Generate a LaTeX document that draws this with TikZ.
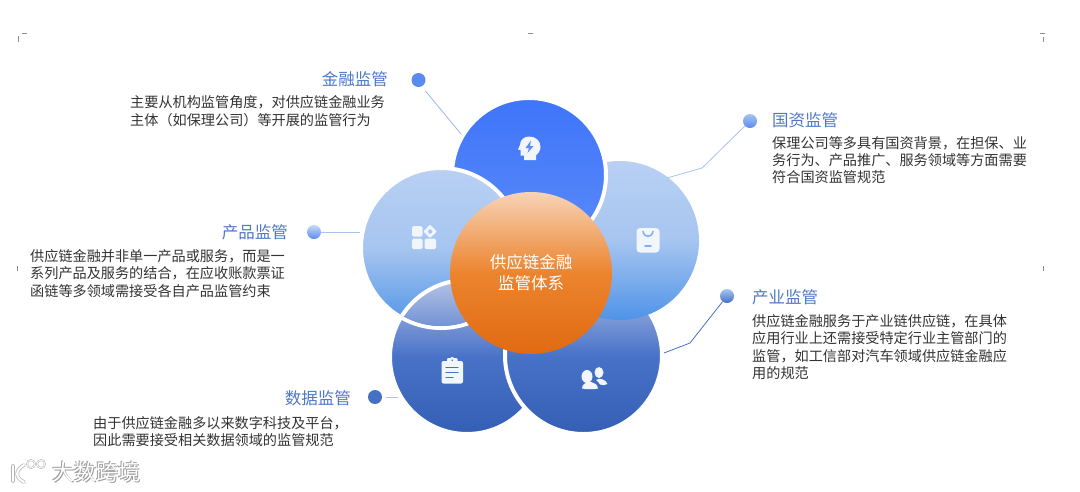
\documentclass[tikz,border=0pt]{standalone}
\usepackage{fontspec}
\setmainfont{Noto Sans CJK SC}
\definecolor{titleblue}{HTML}{4F78C8}
\definecolor{bodytext}{HTML}{333333}
\definecolor{iconwhite}{HTML}{F1F5FC}
\definecolor{lightA}{HTML}{B9D0F3}
\definecolor{lightM}{HTML}{A6C5F0}
\definecolor{lightB}{HTML}{4F93E8}
\definecolor{darkA}{HTML}{B5C3E6}
\definecolor{darkM}{HTML}{4872C8}
\definecolor{darkB}{HTML}{355FB5}
\definecolor{topA}{HTML}{3F75FA}
\definecolor{topB}{HTML}{5B8AF8}
\definecolor{centerA}{HTML}{F7D3B6}
\definecolor{centerM}{HTML}{EC842E}
\definecolor{centerB}{HTML}{E06A12}
\definecolor{dotA}{HTML}{5B8AF0}
\definecolor{dotlightA}{HTML}{A6C5F0}
\definecolor{dotlightB}{HTML}{C6DAF6}
\definecolor{lineA}{HTML}{9DB8E8}
\definecolor{lineB}{HTML}{A8C4EC}
\definecolor{lineD}{HTML}{4670C4}
\definecolor{lineE}{HTML}{F4B896}
\tikzset{
  x=1pt,y=-1pt,
  petal/.style={circle,inner sep=0pt,minimum size=#1},
  ringed/.style={draw=white,line width=4pt},
  lightpetal/.style={top color=lightA,bottom color=lightB,middle color=lightM},
  darkpetal/.style={top color=darkA,bottom color=darkB,middle color=darkM},
  titletext/.style={font=\fontsize{16.5}{18}\selectfont,text=titleblue,inner sep=0pt},
  bodynode/.style={font=\fontsize{14.15}{17.4}\selectfont,text=bodytext,inner sep=0pt,align=left,anchor=north west},
  dot/.style={circle,inner sep=0pt,minimum size=#1},
  leader/.style={line width=.8pt},
  icon/.style={fill=iconwhite,draw=none},
  marks/.style={draw=black!45,line width=.5pt},
}
\begin{document}
\begin{tikzpicture}
\path[use as bounding box,fill=white] (0,0) rectangle (1080,491);
% corner marks
\draw[marks] (22,33) -- (27,33) (18,36) -- (18,42);
\draw[marks] (528,33) -- (533,33);
\draw[marks] (1040,33) -- (1045,33) (1043,37) -- (1043,42);
\draw[marks] (17,266) -- (17,271) (1043,266) -- (1043,271);
% petals
\node[petal=154pt,darkpetal,ringed] (pbl0) at (467,357) {};
\node[petal=157pt,darkpetal,ringed] (pbr) at (583.5,355.5) {};
\node[petal=159pt,lightpetal] (pright) at (619.5,240.5) {};
\node[petal=154pt,ringed,top color=topA,bottom color=topB] (ptop) at (529,175) {};
\node[petal=160pt,lightpetal,ringed] (pleft) at (441,248) {};
\begin{scope}
\clip (441,248) circle (78);
\node[petal=154pt,darkpetal,ringed] (pbl) at (467,357) {};
\end{scope}
\node[petal=162pt,top color=centerA,bottom color=centerB,middle color=centerM,text=white,align=center,
      font=\fontsize{16.5}{21}\selectfont] (hub) at (531,273) {供应链金融\\监管体系};
% leaders and dots
\node[dot=14pt,fill=dotA] (d1) at (418.5,80) {};
\coordinate (e1) at (461,134);
\draw[leader,draw=lineA] (425.5,91) -- (e1);
\node[dot=14pt,top color=dotlightA,bottom color=dotA] (d2) at (750,121) {};
\coordinate (b2) at (702,168);
\coordinate (e2) at (667,178);
\draw[leader,draw=lineB] (d2) -- (b2) -- (e2);
\node[dot=14pt,top color=dotlightA,bottom color=lineD] (d3) at (727,296) {};
\coordinate (b3) at (690,343);
\coordinate (e3) at (664,353);
\draw[leader,draw=lineD] (d3) -- (b3) -- (e3);
\node[dot=14pt,top color=dotlightB,bottom color=dotA] (d4) at (314,232) {};
\coordinate (e4) at (360,232);
\draw[leader,draw=lineB] (d4) -- (e4);
\node[dot=14pt,fill=lineD] (d5) at (375,397) {};
\coordinate (e5) at (398,397);
\draw[leader,draw=lineE] (386,397) -- (e5);
% titles
\node[titletext,anchor=east] (t1) at (388,79) {金融监管};
\node[titletext,anchor=west] (t2) at (772,120) {国资监管};
\node[titletext,anchor=west] (t3) at (752,297) {产业监管};
\node[titletext,anchor=east] (t4) at (288,232) {产品监管};
\node[titletext,anchor=east] (t5) at (351,398) {数据监管};
% bodies
\node[bodynode] (b1t) at (130,95.5) {主要从机构监管角度，对供应链金融业务\\主体（如保理公司）等开展的监管行为};
\node[bodynode] (b2t) at (772,136) {保理公司等多具有国资背景，在担保、业\\务行为、产品推广、服务领域等方面需要\\符合国资监管规范};
\node[bodynode] (b3t) at (752,314) {供应链金融服务于产业链供应链，在具体\\应用行业上还需接受特定行业主管部门的\\监管，如工信部对汽车领域供应链金融应\\用的规范};
\node[bodynode] (b4t) at (30,249) {供应链金融并非单一产品或服务，而是一\\系列产品及服务的结合，在应收账款票证\\函链等多领域需接受各自产品监管约束};
\node[bodynode] (b5t) at (93,416) {由于供应链金融多以来数字科技及平台，\\因此需要接受相关数据领域的监管规范};
% icon: head with bolt
\fill[icon] (529,136.5) .. controls (536,136.5) and (540.5,141) .. (540.5,147)
  .. controls (540.5,151) and (538,153.5) .. (536,155.5) -- (536,160) -- (524,160) -- (524,155.5)
  -- (520.5,155.5) -- (520.5,150) -- (518,149.5) -- (520,145)
  .. controls (520,140) and (524,136.5) .. (529,136.5) -- cycle;
\fill[topB] (531,140.5) -- (525.5,148) -- (529,148) -- (527.5,153) -- (533.5,146) -- (530,146) -- cycle;
% icon: apps
\fill[icon,rounded corners=1.5pt] (412,226) rectangle (422.5,236.5);
\fill[icon,rounded corners=1.5pt] (412,238.5) rectangle (422.5,249);
\fill[icon,rounded corners=1.5pt] (424.5,238.5) rectangle (436,249);
\fill[icon,rounded corners=1pt,even odd rule] (430,224.5) -- (437,231.5) -- (430,238) -- (423.5,231.5) -- cycle
  (430,228.5) -- (433,231.5) -- (430,234.5) -- (427.5,231.5) -- cycle;
% icon: bag
\fill[icon,rounded corners=3.5pt] (636.5,228) rectangle (659.5,252.5);
\draw[lightM!60!lightB,line width=1.6pt,line cap=round] (643,231.5) .. controls (644,238) and (652,238) .. (653,231.5);
\draw[lightM!60!lightB,line width=1.6pt,line cap=round] (645,246) -- (651,246);
% icon: users
\fill[icon] (587,376.5) circle[x radius=5.5,y radius=6.5];
\fill[icon] (582,388.5) .. controls (582.5,381) and (592,381) .. (593.5,383) .. controls (597,384) and (598,387) .. (598,388.5) .. controls (594,389.5) and (586,389.5) .. (582,388.5) -- cycle;
\fill[icon] (599,372.5) circle[x radius=4.5,y radius=5.5];
\fill[icon] (596,380) .. controls (600,377) and (606,380) .. (607.5,384) .. controls (605,385.5) and (602,385.5) .. (600,384.5) .. controls (599,382.5) and (597.5,381) .. (596,380) -- cycle;
% icon: clipboard
\fill[icon,rounded corners=2pt] (441.5,361) rectangle (463,383.5);
\fill[icon,rounded corners=1pt] (447,358) rectangle (457.5,363.5);
\fill[icon] (452.2,359) circle (2);
\fill[darkM] (452.2,360.2) circle (.9);
\draw[darkM,line width=1.3pt,line cap=round] (446,367.5) -- (458,367.5) (446,372.5) -- (458,372.5) (446,377.5) -- (453,377.5);
% watermark
\node[font=\fontsize{22}{24}\selectfont,text=black!38,inner sep=0pt,anchor=west] (wm0) at (52.8,472.8) {大数跨境};
\node[font=\fontsize{22}{24}\selectfont,text=black!38,inner sep=0pt,anchor=west] (wm1) at (51.4,471.4) {大数跨境};
\node[font=\fontsize{22}{24}\selectfont,text=white,inner sep=0pt,anchor=west] (wm) at (52,472) {大数跨境};
\draw[black!30,line width=3.6pt,line cap=round] (13,466) -- (13,481);
\draw[black!30,line width=3.6pt,line cap=round] (24,465) .. controls (15,470) and (15,478) .. (24,482);
\draw[white,line width=2.2pt,line cap=round] (13,466) -- (13,481);
\draw[white,line width=2.2pt,line cap=round] (24,465) .. controls (15,470) and (15,478) .. (24,482);
\draw[black!30,line width=1.8pt] (31,464) circle (4) (41,464) circle (4);
\draw[white,line width=.8pt] (31,464) circle (4) (41,464) circle (4);
\end{tikzpicture}
\end{document}
